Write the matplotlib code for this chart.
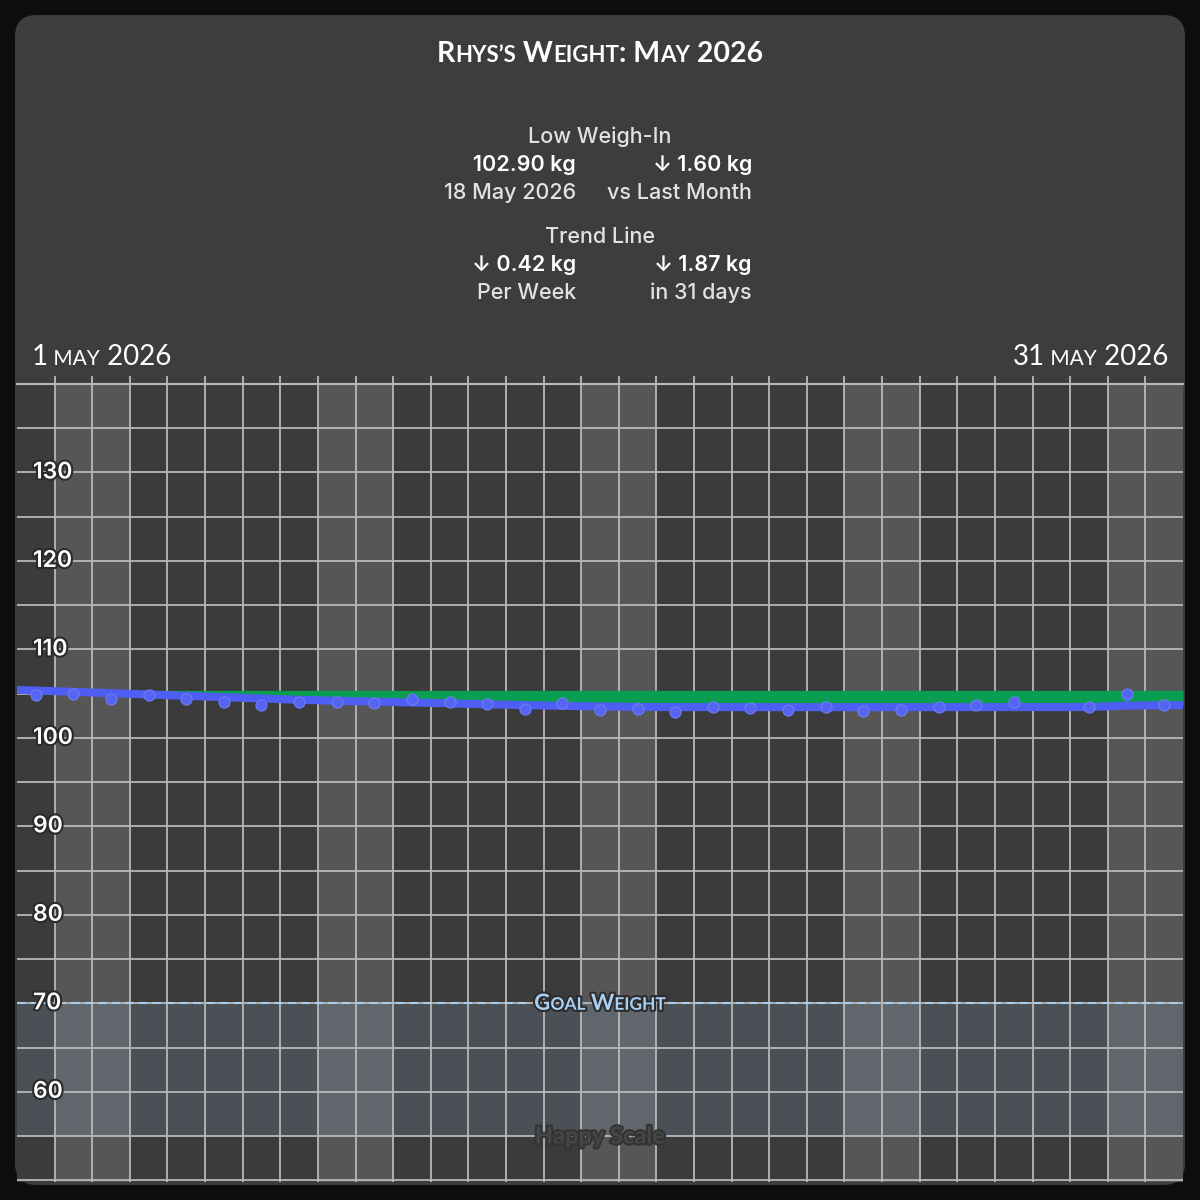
import numpy as np
import pandas as pd
import matplotlib
matplotlib.use('Agg')
import matplotlib.pyplot as plt
import matplotlib.patheffects as pe
from matplotlib.patches import FancyBboxPatch
from matplotlib.offsetbox import TextArea, HPacker, AnnotationBbox
from matplotlib.transforms import blended_transform_factory

# data
days = np.arange(1, 32)
weights = [104.8, 105.0, 104.4, 104.8, 104.4, 104.1, 103.75, 104.1, 104.0, 103.9,
           104.4, 104.0, 103.8, 103.25, 103.9, 103.2, 103.25, 102.9, 103.5, 103.4,
           103.15, 103.5, 103.0, 103.2, 103.5, 103.7, 104.1, np.nan, 103.45, 105.0,
           103.75]
trend = [105.35, 105.2, 105.05, 104.9, 104.75, 104.6, 104.45, 104.3, 104.2, 104.1,
         104.0, 103.9, 103.8, 103.7, 103.62, 103.55, 103.5, 103.48, 103.48, 103.47,
         103.47, 103.47, 103.47, 103.47, 103.47, 103.48, 103.48, 103.48, 103.48, 103.65,
         103.68]
start_level = 105.37
goal = 70
goal_zone_floor = 55
ylabels = [60, 70, 80, 90, 100, 110, 120, 130]
dates = pd.date_range('2026-05-01', periods=31)
weekend = dates.dayofweek >= 5

stat_heads = ['Low Weigh-In', 'Trend Line']
stat_left = [('102.90 kg', '18 May 2026'), ('↓ 0.42 kg', 'Per Week')]
stat_right = [('↓ 1.60 kg', 'vs Last Month'), ('↓ 1.87 kg', 'in 31 days')]

W = 1200.0
fig = plt.figure(figsize=(12, 12), dpi=100, facecolor='#0e0e0e')
panel = FancyBboxPatch((15 / W, 15 / W), 1170 / W, 1170 / W,
                       boxstyle='round,pad=0,rounding_size=0.018',
                       transform=fig.transFigure, facecolor='#3d3d3d',
                       edgecolor='none', zorder=-1)
fig.patches.append(panel)

ax = fig.add_axes([17 / W, 18 / W, 1166 / W, 798 / W])
ax.set_facecolor('#3b3b3b')
ax.set_xlim(0.5, 31.5)
ax.set_ylim(49.8, 140)

for d in days[weekend]:
    ax.axvspan(d - 0.5, d + 0.5, color='#565656', lw=0, zorder=0)
ax.axhspan(goal_zone_floor, goal, color='#9ab8dc', alpha=0.17, lw=0, zorder=0.5)

ax.set_yticks(np.arange(50, 141, 5))
ax.set_xticks(days[:-1] + 0.5)
ax.grid(color='#b8b8b8', lw=1.3)
ax.tick_params(axis='x', top=True, bottom=False, direction='out', length=6,
               width=1.3, color='#b8b8b8', labelbottom=False, labeltop=False)
ax.tick_params(axis='y', left=False, labelleft=False)
for s in ['left', 'right', 'bottom']:
    ax.spines[s].set_visible(False)
ax.spines['top'].set_color('#b8b8b8')
ax.spines['top'].set_linewidth(1.5)

# trend line extended to the plot edges
x_ext = np.concatenate([[0.5], days, [31.5]])
t = np.array(trend)
trend_ext = np.concatenate([[t[0] - 0.5 * (t[1] - t[0])], t, [t[-1] + 0.5 * (t[-1] - t[-2])]])
ax.fill_between(x_ext, trend_ext, start_level, where=trend_ext < start_level,
                interpolate=True, color='#0a9f50', lw=0, zorder=3)
ax.plot(x_ext, trend_ext, color='#4f5ef2', lw=5.8, solid_capstyle='butt', zorder=4)
w = np.array(weights)
ok = ~np.isnan(w)
ax.vlines(days[ok], w[ok], t[ok], color='#5563f0', lw=1.5, zorder=4.5)
ax.plot(days, weights, 'o', ms=8, mfc='#5664f2', mec='#6e7df5', mew=0.8, zorder=5)

# goal line with gap for label
goal_style = dict(color='#a8cff2', lw=1.5, ls=(0, (4, 2.5)), zorder=3)
ax.axhline(goal, xmax=0.44, **goal_style)
ax.axhline(goal, xmin=0.558, **goal_style)


def small_caps(parts, big, small, **props):
    boxes = []
    for txt, is_big in parts:
        boxes.append(TextArea(txt, textprops=dict(fontsize=big if is_big else small, **props)))
    return HPacker(children=boxes, align='baseline', pad=0, sep=0)


outline = [pe.withStroke(linewidth=3, foreground='#2c2c2c')]
gw = small_caps([('G', 1), ('OAL', 0), (' W', 1), ('EIGHT', 0)], 16, 12.5,
                color='#a8d0f5', family='Lato', weight='bold', path_effects=outline)
ax.add_artist(AnnotationBbox(gw, (16, goal), xycoords='data', frameon=False,
                             box_alignment=(0.5, 0.5), zorder=6))

ax.text(16, goal_zone_floor, 'Happy Scale', ha='center', va='center', fontsize=17,
        color='#464646', weight='bold', family='Lato', zorder=6,
        path_effects=[pe.withStroke(linewidth=3, foreground='#343434')])

tr = blended_transform_factory(ax.transAxes, ax.transData)
for v in ylabels:
    ax.text(0.0137, v, str(v), transform=tr, ha='left', va='center', fontsize=16.5,
            color='white', weight='semibold', family=['Inter', 'DejaVu Sans'],
            zorder=6, path_effects=[pe.withStroke(linewidth=3, foreground='#2a2a2a')])

# header
title = small_caps([('R', 1), ('HYS’S', 0), (' W', 1), ('EIGHT', 0), (': M', 1),
                    ('AY', 0), (' 2026', 1)], 20.5, 16, color='white', family='Lato',
                   weight='bold')
fig.add_artist(AnnotationBbox(title, (0.5, 1 - 54 / W), xycoords='figure fraction',
                              frameon=False, box_alignment=(0.5, 0.5)))

d_props = dict(color='white', family='Lato')
d1 = small_caps([('1', 1), (' MAY', 0), (' 2026', 1)], 20, 15, **d_props)
fig.add_artist(AnnotationBbox(d1, (32 / W, 1 - 357 / W), xycoords='figure fraction',
                              frameon=False, box_alignment=(0, 0.5)))
d31 = small_caps([('31', 1), (' MAY', 0), (' 2026', 1)], 20, 15, **d_props)
fig.add_artist(AnnotationBbox(d31, (1168 / W, 1 - 357 / W), xycoords='figure fraction',
                              frameon=False, box_alignment=(1, 0.5)))

fam = ['Inter', 'DejaVu Sans']
for i, head in enumerate(stat_heads):
    y0 = 137 + 100 * i
    fig.text(0.5, 1 - y0 / W, head, ha='center', va='center', fontsize=15.5,
             color='#e2e2e2', family=fam, weight='medium')
    for xr, (val, sub) in zip([576, 752], [stat_left[i], stat_right[i]]):
        fig.text(xr / W, 1 - (y0 + 28) / W, val, ha='right', va='center',
                 fontsize=15.5, color='white', weight='semibold', family=fam)
        fig.text(xr / W, 1 - (y0 + 56) / W, sub, ha='right', va='center',
                 fontsize=15.5, color='#e2e2e2', family=fam, weight='medium')

fig.savefig('out.png', dpi=100, facecolor=fig.get_facecolor())
